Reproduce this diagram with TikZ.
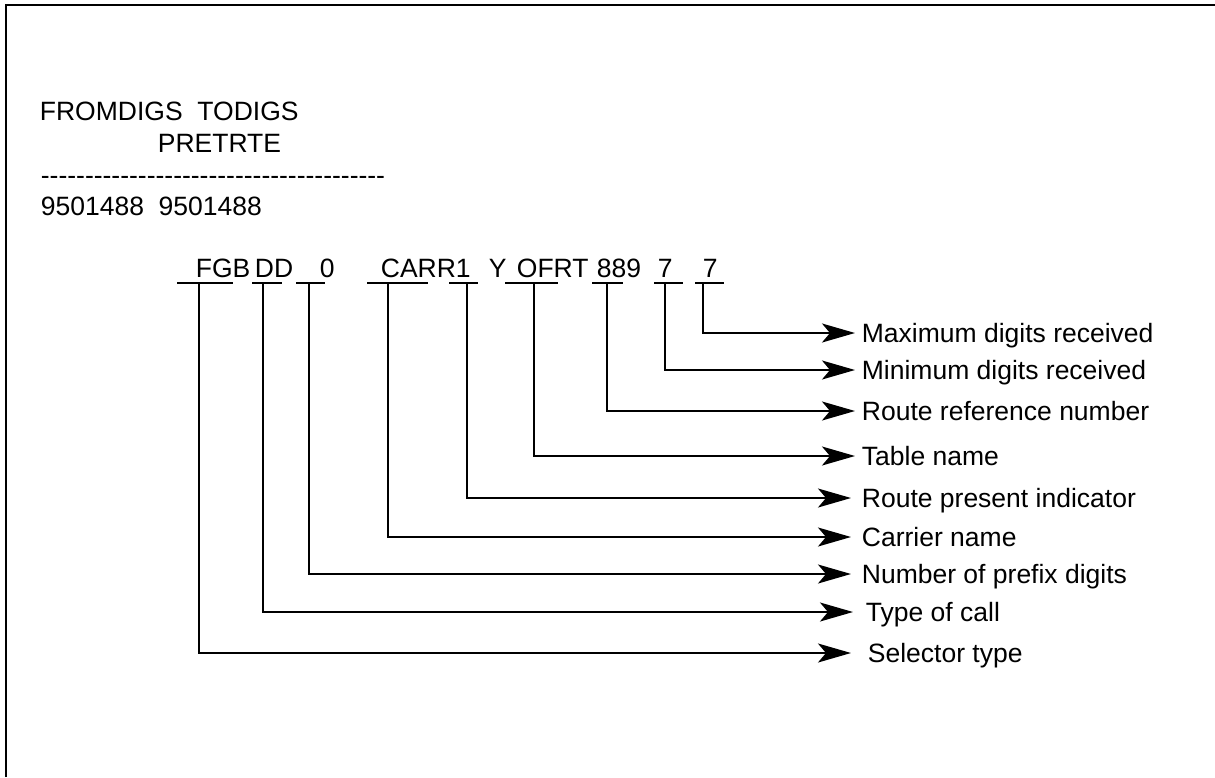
\documentclass[tikz,border=0pt]{standalone}
\usepackage{fontspec}
\setmainfont{Liberation Sans}
\usetikzlibrary{arrows.meta}
\newcommand\hyph{\hbox{-}}
\begin{document}
\begin{tikzpicture}[x=1pt,y=-1pt,line width=1.8pt,
  txt/.style={inner sep=0pt,anchor=base west,font=\fontsize{26.5}{32}\selectfont},
  lab/.style={anchor=west,inner xsep=6pt,inner ysep=0pt,text height=19pt,text depth=0pt,font=\fontsize{26.5}{32}\selectfont},
  conn/.style={-{Stealth[length=33pt,width=19pt,inset=8pt]}},
  uline/.style={line width=1.8pt}]
\useasboundingbox (0,0) rectangle (1215,777);
% frame (top and left edges)
\draw (6,777) -- (6,5) -- (1215,5);
% header
\node[txt] (h1) at (39,120) {FROMDIGS\ \ TODIGS};
\node[txt] (h2) at (157,152) {PRETRTE};
\node[txt] (h3) at (40,184) {\hyph\hyph\hyph\hyph\hyph\hyph\hyph\hyph\hyph\hyph\hyph\hyph\hyph\hyph\hyph\hyph\hyph\hyph\hyph\hyph\hyph\hyph\hyph\hyph\hyph\hyph\hyph\hyph\hyph\hyph\hyph\hyph\hyph\hyph\hyph\hyph\hyph\hyph\hyph};
\node[txt] (h4) at (40,215) {9501488\ \ 9501488};
% field line
\node[txt] (f1) at (195,277) {FGB};
\node[txt] (f2) at (254,277) {DD};
\node[txt] (f3) at (319,277) {0};
\node[txt] (f4) at (380,277) {CARR1};
\node[txt] (f5) at (488,277) {Y};
\node[txt] (f6) at (516,277) {OFRT};
\node[txt] (f7) at (596,277) {889};
\node[txt] (f8) at (657,277) {7};
\node[txt] (f9) at (702,277) {7};
% underlines
\draw[uline] (177,283) -- (233,283);
\draw[uline] (252,283) -- (282,283);
\draw[uline] (296,283) -- (325,283);
\draw[uline] (367,283) -- (428,283);
\draw[uline] (449,283) -- (478,283);
\draw[uline] (505,283) -- (558,283);
\draw[uline] (592,283) -- (623,283);
\draw[uline] (654,283) -- (683,283);
\draw[uline] (695,283) -- (724,283);
% drop points
\coordinate (d1) at (199,283);
\coordinate (d2) at (263,283);
\coordinate (d3) at (309,283);
\coordinate (d4) at (388,283);
\coordinate (d5) at (467,283);
\coordinate (d6) at (534,283);
\coordinate (d7) at (607,283);
\coordinate (d8) at (665,283);
\coordinate (d9) at (703,283);
% labels
\node[lab] (l9) at (855,333) {Maximum digits received};
\node[lab] (l8) at (855,370) {Minimum digits received};
\node[lab] (l7) at (855,411) {Route reference number};
\node[lab] (l6) at (855,456) {Table name};
\node[lab,inner xsep=10pt] (l5) at (851,498) {Route present indicator};
\node[lab,inner xsep=10pt] (l4) at (851,537) {Carrier name};
\node[lab,inner xsep=10pt] (l3) at (851,574) {Number of prefix digits};
\node[lab,inner xsep=12pt] (l2) at (853,612) {Type of call};
\node[lab,inner xsep=16pt] (l1) at (851,653) {Selector type};
% connectors
\draw[conn] (d1) |- (l1.west);
\draw[conn] (d2) |- (l2.west);
\draw[conn] (d3) |- (l3.west);
\draw[conn] (d4) |- (l4.west);
\draw[conn] (d5) |- (l5.west);
\draw[conn] (d6) |- (l6.west);
\draw[conn] (d7) |- (l7.west);
\draw[conn] (d8) |- (l8.west);
\draw[conn] (d9) |- (l9.west);
\end{tikzpicture}
\end{document}
